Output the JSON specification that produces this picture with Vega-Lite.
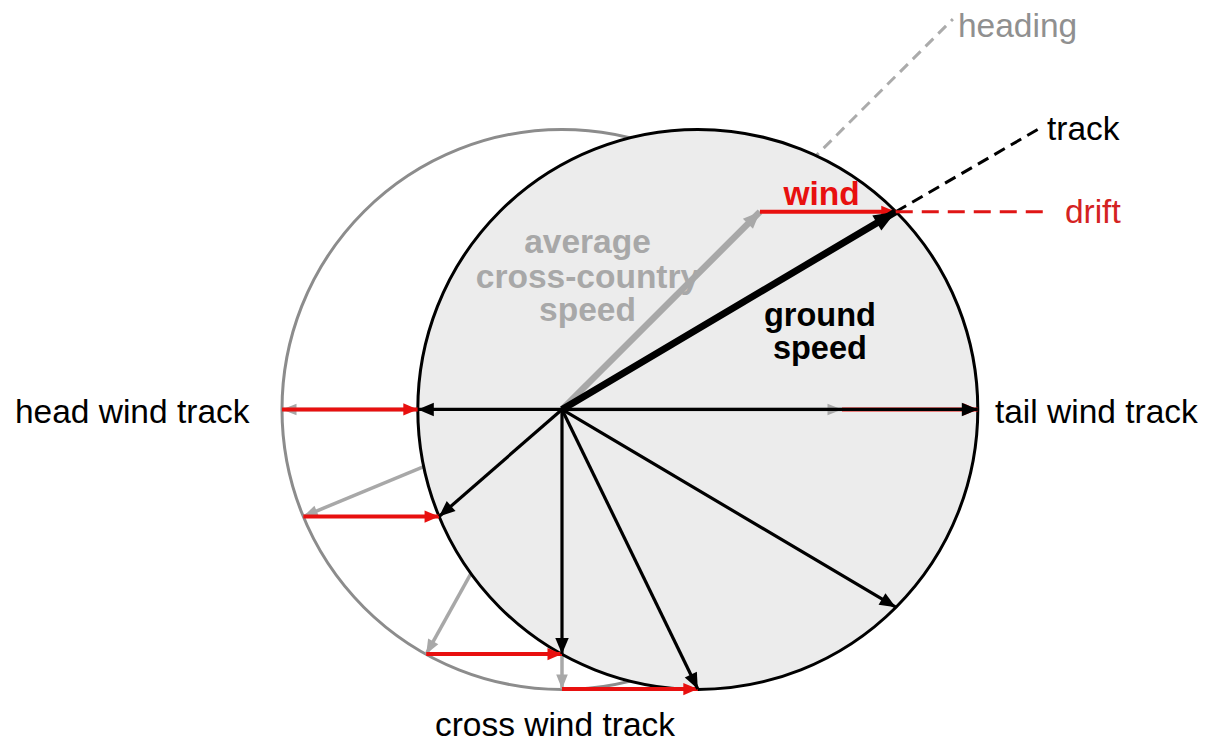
{
  "$schema": "https://vega.github.io/schema/vega-lite/v6.json",
  "width": 1215,
  "height": 743,
  "autosize": {"type": "fit", "contains": "padding"},
  "padding": 0,
  "background": "white",
  "config": {"view": {"stroke": null}},
  "datasets": {
    "circles": [
      {"circle": "airspeed in still air", "cx": 0, "cy": 0, "r": 100},
      {"circle": "airspeed plus wind", "cx": 48.5, "cy": 0, "r": 100}
    ],
    "vectors": [
      {"hdg": 270, "ox": 0, "oy": 0, "ax": -100, "ay": 0, "gx": -51.5, "gy": 0, "trk": 270},
      {"hdg": 247.5, "ox": 0, "oy": 0, "ax": -92.4, "ay": -38.3, "gx": -43.9, "gy": -38.3, "trk": 228.9},
      {"hdg": 209, "ox": 0, "oy": 0, "ax": -48.5, "ay": -87.5, "gx": 0, "gy": -87.5, "trk": 180},
      {"hdg": 180, "ox": 0, "oy": 0, "ax": 0, "ay": -100, "gx": 48.5, "gy": -100, "trk": 154.1},
      {"hdg": 135, "ox": 0, "oy": 0, "ax": 70.7, "ay": -70.7, "gx": 119.2, "gy": -70.7, "trk": 120.7},
      {"hdg": 90, "ox": 0, "oy": 0, "ax": 100, "ay": 0, "gx": 148.5, "gy": 0, "trk": 90},
      {"hdg": 45, "ox": 0, "oy": 0, "ax": 70.7, "ay": 70.7, "gx": 119.2, "gy": 70.7, "trk": 59.3}
    ],
    "headingLine": [{"x": 70.7, "y": 70.7, "x2": 139.6, "y2": 139.6}],
    "trackLine": [{"x": 119.2, "y": 70.7, "x2": 171.4, "y2": 101.0}],
    "driftLine": [{"x": 119.2, "y": 70.7, "x2": 174.3, "y2": 70.7}],
    "labels": [
      {"role": "track", "text": "head wind track", "x": -195.4, "y": -5.0},
      {"role": "track", "text": "tail wind track", "x": 154.6, "y": -5.0},
      {"role": "track", "text": "cross wind track", "x": -45.4, "y": -116.8},
      {"role": "track", "text": "track", "x": 173.2, "y": 96.4},
      {"role": "heading", "text": "heading", "x": 141.4, "y": 133.2},
      {"role": "drift", "text": "drift", "x": 179.6, "y": 66.8},
      {"role": "wind", "text": "wind", "x": 92.7, "y": 73.2},
      {"role": "airspeed", "text": "average", "x": 9.1, "y": 56.0},
      {"role": "airspeed", "text": "cross-country", "x": 9.1, "y": 43.5},
      {"role": "airspeed", "text": "speed", "x": 9.1, "y": 31.5},
      {"role": "groundspeed", "text": "ground", "x": 92.1, "y": 30.0},
      {"role": "groundspeed", "text": "speed", "x": 92.1, "y": 17.9}
    ]
  },
  "layer": [
    {
      "data": {"name": "circles"},
      "transform": [{"filter": "datum.cx == 0"}],
      "mark": {"type": "circle", "fill": "white", "stroke": "#8c8c8c", "strokeWidth": 3, "opacity": 1, "fillOpacity": 1},
      "encoding": {
        "x": {"field": "cx", "type": "quantitative", "scale": {"domain": [-200.714, 233.214], "nice": false, "zero": false}, "axis": null},
        "y": {"field": "cy", "type": "quantitative", "scale": {"domain": [-118.929, 146.429], "nice": false, "zero": false}, "axis": null},
        "size": {"field": "r", "type": "quantitative", "scale": {"type": "pow", "exponent": 2, "domain": [0, 100], "range": [0, 313600]}, "legend": null}
      }
    },
    {
      "data": {"name": "headingLine"},
      "mark": {"type": "rule", "color": "#ababab", "strokeWidth": 3, "strokeDash": [11, 7]},
      "encoding": {
        "x": {"field": "x", "type": "quantitative", "scale": {"domain": [-200.714, 233.214], "nice": false, "zero": false}, "axis": null},
        "y": {"field": "y", "type": "quantitative", "scale": {"domain": [-118.929, 146.429], "nice": false, "zero": false}, "axis": null},
        "x2": {"field": "x2"},
        "y2": {"field": "y2"}
      }
    },
    {
      "data": {"name": "vectors"},
      "transform": [{"filter": "datum.hdg >= 180"}],
      "mark": {"type": "rule", "color": "#a8a8a8", "strokeWidth": 3.5},
      "encoding": {
        "x": {"field": "ox", "type": "quantitative", "scale": {"domain": [-200.714, 233.214], "nice": false, "zero": false}, "axis": null},
        "y": {"field": "oy", "type": "quantitative", "scale": {"domain": [-118.929, 146.429], "nice": false, "zero": false}, "axis": null},
        "x2": {"field": "ax"},
        "y2": {"field": "ay"}
      }
    },
    {
      "data": {"name": "vectors"},
      "transform": [{"filter": "datum.hdg >= 180"}],
      "mark": {"type": "point", "shape": "M0,0L-0.4,1L0.4,1Z", "filled": true, "color": "#a8a8a8", "opacity": 1, "size": 841},
      "encoding": {
        "x": {"field": "ax", "type": "quantitative", "scale": {"domain": [-200.714, 233.214], "nice": false, "zero": false}, "axis": null},
        "y": {"field": "ay", "type": "quantitative", "scale": {"domain": [-118.929, 146.429], "nice": false, "zero": false}, "axis": null},
        "angle": {"field": "hdg", "type": "quantitative", "scale": {"domain": [0, 360], "range": [0, 360]}, "legend": null}
      }
    },
    {
      "data": {"name": "circles"},
      "transform": [{"filter": "datum.cx > 0"}],
      "mark": {"type": "circle", "fill": "#ececec", "stroke": "black", "strokeWidth": 3, "opacity": 1, "fillOpacity": 1},
      "encoding": {
        "x": {"field": "cx", "type": "quantitative", "scale": {"domain": [-200.714, 233.214], "nice": false, "zero": false}, "axis": null},
        "y": {"field": "cy", "type": "quantitative", "scale": {"domain": [-118.929, 146.429], "nice": false, "zero": false}, "axis": null},
        "size": {"field": "r", "type": "quantitative", "scale": {"type": "pow", "exponent": 2, "domain": [0, 100], "range": [0, 313600]}, "legend": null}
      }
    },
    {
      "data": {"name": "vectors"},
      "transform": [{"filter": "datum.hdg == 90"}],
      "mark": {"type": "rule", "color": "#a8a8a8", "strokeWidth": 3.5},
      "encoding": {
        "x": {"field": "ox", "type": "quantitative", "scale": {"domain": [-200.714, 233.214], "nice": false, "zero": false}, "axis": null},
        "y": {"field": "oy", "type": "quantitative", "scale": {"domain": [-118.929, 146.429], "nice": false, "zero": false}, "axis": null},
        "x2": {"field": "ax"},
        "y2": {"field": "ay"}
      }
    },
    {
      "data": {"name": "vectors"},
      "transform": [{"filter": "datum.hdg == 90"}],
      "mark": {"type": "point", "shape": "M0,0L-0.4,1L0.4,1Z", "filled": true, "color": "#a8a8a8", "opacity": 1, "size": 841},
      "encoding": {
        "x": {"field": "ax", "type": "quantitative", "scale": {"domain": [-200.714, 233.214], "nice": false, "zero": false}, "axis": null},
        "y": {"field": "ay", "type": "quantitative", "scale": {"domain": [-118.929, 146.429], "nice": false, "zero": false}, "axis": null},
        "angle": {"field": "hdg", "type": "quantitative", "scale": {"domain": [0, 360], "range": [0, 360]}, "legend": null}
      }
    },
    {
      "data": {"name": "vectors"},
      "transform": [{"filter": "datum.hdg == 45"}],
      "mark": {"type": "rule", "color": "#a8a8a8", "strokeWidth": 6.5},
      "encoding": {
        "x": {"field": "ox", "type": "quantitative", "scale": {"domain": [-200.714, 233.214], "nice": false, "zero": false}, "axis": null},
        "y": {"field": "oy", "type": "quantitative", "scale": {"domain": [-118.929, 146.429], "nice": false, "zero": false}, "axis": null},
        "x2": {"field": "ax"},
        "y2": {"field": "ay"}
      }
    },
    {
      "data": {"name": "vectors"},
      "transform": [{"filter": "datum.hdg == 45"}],
      "mark": {"type": "point", "shape": "M0,0L-0.42,1L0.42,1Z", "filled": true, "color": "#a8a8a8", "opacity": 1, "size": 1156},
      "encoding": {
        "x": {"field": "ax", "type": "quantitative", "scale": {"domain": [-200.714, 233.214], "nice": false, "zero": false}, "axis": null},
        "y": {"field": "ay", "type": "quantitative", "scale": {"domain": [-118.929, 146.429], "nice": false, "zero": false}, "axis": null},
        "angle": {"field": "hdg", "type": "quantitative", "scale": {"domain": [0, 360], "range": [0, 360]}, "legend": null}
      }
    },
    {
      "data": {"name": "vectors"},
      "transform": [{"filter": "datum.hdg != 135"}],
      "mark": {"type": "rule", "color": "#e8100f", "strokeWidth": 4},
      "encoding": {
        "x": {"field": "ax", "type": "quantitative", "scale": {"domain": [-200.714, 233.214], "nice": false, "zero": false}, "axis": null},
        "y": {"field": "ay", "type": "quantitative", "scale": {"domain": [-118.929, 146.429], "nice": false, "zero": false}, "axis": null},
        "x2": {"field": "gx"},
        "y2": {"field": "gy"}
      }
    },
    {
      "data": {"name": "vectors"},
      "transform": [{"filter": "datum.hdg != 135"}],
      "mark": {"type": "point", "shape": "M0,0L-0.42,1L0.42,1Z", "filled": true, "color": "#e8100f", "opacity": 1, "size": 841, "angle": 90},
      "encoding": {
        "x": {"field": "gx", "type": "quantitative", "scale": {"domain": [-200.714, 233.214], "nice": false, "zero": false}, "axis": null},
        "y": {"field": "gy", "type": "quantitative", "scale": {"domain": [-118.929, 146.429], "nice": false, "zero": false}, "axis": null}
      }
    },
    {
      "data": {"name": "vectors"},
      "transform": [{"filter": "datum.hdg != 45"}],
      "mark": {"type": "rule", "color": "black", "strokeWidth": 3.2},
      "encoding": {
        "x": {"field": "ox", "type": "quantitative", "scale": {"domain": [-200.714, 233.214], "nice": false, "zero": false}, "axis": null},
        "y": {"field": "oy", "type": "quantitative", "scale": {"domain": [-118.929, 146.429], "nice": false, "zero": false}, "axis": null},
        "x2": {"field": "gx"},
        "y2": {"field": "gy"}
      }
    },
    {
      "data": {"name": "vectors"},
      "transform": [{"filter": "datum.hdg != 45"}],
      "mark": {"type": "point", "shape": "M0,0L-0.42,1L0.42,1Z", "filled": true, "color": "black", "opacity": 1, "size": 1024},
      "encoding": {
        "x": {"field": "gx", "type": "quantitative", "scale": {"domain": [-200.714, 233.214], "nice": false, "zero": false}, "axis": null},
        "y": {"field": "gy", "type": "quantitative", "scale": {"domain": [-118.929, 146.429], "nice": false, "zero": false}, "axis": null},
        "angle": {"field": "trk", "type": "quantitative", "scale": {"domain": [0, 360], "range": [0, 360]}, "legend": null}
      }
    },
    {
      "data": {"name": "vectors"},
      "transform": [{"filter": "datum.hdg == 45"}],
      "mark": {"type": "rule", "color": "black", "strokeWidth": 7},
      "encoding": {
        "x": {"field": "ox", "type": "quantitative", "scale": {"domain": [-200.714, 233.214], "nice": false, "zero": false}, "axis": null},
        "y": {"field": "oy", "type": "quantitative", "scale": {"domain": [-118.929, 146.429], "nice": false, "zero": false}, "axis": null},
        "x2": {"field": "gx"},
        "y2": {"field": "gy"}
      }
    },
    {
      "data": {"name": "vectors"},
      "transform": [{"filter": "datum.hdg == 45"}],
      "mark": {"type": "point", "shape": "M0,0L-0.4,1L0.4,1Z", "filled": true, "color": "black", "opacity": 1, "size": 1936},
      "encoding": {
        "x": {"field": "gx", "type": "quantitative", "scale": {"domain": [-200.714, 233.214], "nice": false, "zero": false}, "axis": null},
        "y": {"field": "gy", "type": "quantitative", "scale": {"domain": [-118.929, 146.429], "nice": false, "zero": false}, "axis": null},
        "angle": {"field": "trk", "type": "quantitative", "scale": {"domain": [0, 360], "range": [0, 360]}, "legend": null}
      }
    },
    {
      "data": {"name": "trackLine"},
      "mark": {"type": "rule", "color": "black", "strokeWidth": 3, "strokeDash": [12, 7]},
      "encoding": {
        "x": {"field": "x", "type": "quantitative", "scale": {"domain": [-200.714, 233.214], "nice": false, "zero": false}, "axis": null},
        "y": {"field": "y", "type": "quantitative", "scale": {"domain": [-118.929, 146.429], "nice": false, "zero": false}, "axis": null},
        "x2": {"field": "x2"},
        "y2": {"field": "y2"}
      }
    },
    {
      "data": {"name": "driftLine"},
      "mark": {"type": "rule", "color": "#e01515", "strokeWidth": 3, "strokeDash": [17, 9]},
      "encoding": {
        "x": {"field": "x", "type": "quantitative", "scale": {"domain": [-200.714, 233.214], "nice": false, "zero": false}, "axis": null},
        "y": {"field": "y", "type": "quantitative", "scale": {"domain": [-118.929, 146.429], "nice": false, "zero": false}, "axis": null},
        "x2": {"field": "x2"},
        "y2": {"field": "y2"}
      }
    },
    {
      "data": {"name": "labels"},
      "transform": [{"filter": "datum.role == 'track'"}],
      "mark": {"type": "text", "font": "Liberation Sans", "fontSize": 33.5, "color": "black", "align": "left", "baseline": "alphabetic"},
      "encoding": {
        "x": {"field": "x", "type": "quantitative", "scale": {"domain": [-200.714, 233.214], "nice": false, "zero": false}, "axis": null},
        "y": {"field": "y", "type": "quantitative", "scale": {"domain": [-118.929, 146.429], "nice": false, "zero": false}, "axis": null},
        "text": {"field": "text"}
      }
    },
    {
      "data": {"name": "labels"},
      "transform": [{"filter": "datum.role == 'heading'"}],
      "mark": {"type": "text", "font": "Liberation Sans", "fontSize": 33.5, "color": "#909090", "align": "left", "baseline": "alphabetic"},
      "encoding": {
        "x": {"field": "x", "type": "quantitative", "scale": {"domain": [-200.714, 233.214], "nice": false, "zero": false}, "axis": null},
        "y": {"field": "y", "type": "quantitative", "scale": {"domain": [-118.929, 146.429], "nice": false, "zero": false}, "axis": null},
        "text": {"field": "text"}
      }
    },
    {
      "data": {"name": "labels"},
      "transform": [{"filter": "datum.role == 'drift'"}],
      "mark": {"type": "text", "font": "Liberation Sans", "fontSize": 33.5, "color": "#d42222", "align": "left", "baseline": "alphabetic"},
      "encoding": {
        "x": {"field": "x", "type": "quantitative", "scale": {"domain": [-200.714, 233.214], "nice": false, "zero": false}, "axis": null},
        "y": {"field": "y", "type": "quantitative", "scale": {"domain": [-118.929, 146.429], "nice": false, "zero": false}, "axis": null},
        "text": {"field": "text"}
      }
    },
    {
      "data": {"name": "labels"},
      "transform": [{"filter": "datum.role == 'wind'"}],
      "mark": {"type": "text", "font": "Liberation Sans", "fontWeight": "bold", "fontSize": 33.5, "color": "#e8100f", "align": "center", "baseline": "alphabetic"},
      "encoding": {
        "x": {"field": "x", "type": "quantitative", "scale": {"domain": [-200.714, 233.214], "nice": false, "zero": false}, "axis": null},
        "y": {"field": "y", "type": "quantitative", "scale": {"domain": [-118.929, 146.429], "nice": false, "zero": false}, "axis": null},
        "text": {"field": "text"}
      }
    },
    {
      "data": {"name": "labels"},
      "transform": [{"filter": "datum.role == 'airspeed'"}],
      "mark": {"type": "text", "font": "Liberation Sans", "fontWeight": "bold", "fontSize": 33.5, "color": "#a8a8a8", "align": "center", "baseline": "alphabetic"},
      "encoding": {
        "x": {"field": "x", "type": "quantitative", "scale": {"domain": [-200.714, 233.214], "nice": false, "zero": false}, "axis": null},
        "y": {"field": "y", "type": "quantitative", "scale": {"domain": [-118.929, 146.429], "nice": false, "zero": false}, "axis": null},
        "text": {"field": "text"}
      }
    },
    {
      "data": {"name": "labels"},
      "transform": [{"filter": "datum.role == 'groundspeed'"}],
      "mark": {"type": "text", "font": "Liberation Sans", "fontWeight": "bold", "fontSize": 32.5, "color": "black", "align": "center", "baseline": "alphabetic"},
      "encoding": {
        "x": {"field": "x", "type": "quantitative", "scale": {"domain": [-200.714, 233.214], "nice": false, "zero": false}, "axis": null},
        "y": {"field": "y", "type": "quantitative", "scale": {"domain": [-118.929, 146.429], "nice": false, "zero": false}, "axis": null},
        "text": {"field": "text"}
      }
    }
  ]
}
